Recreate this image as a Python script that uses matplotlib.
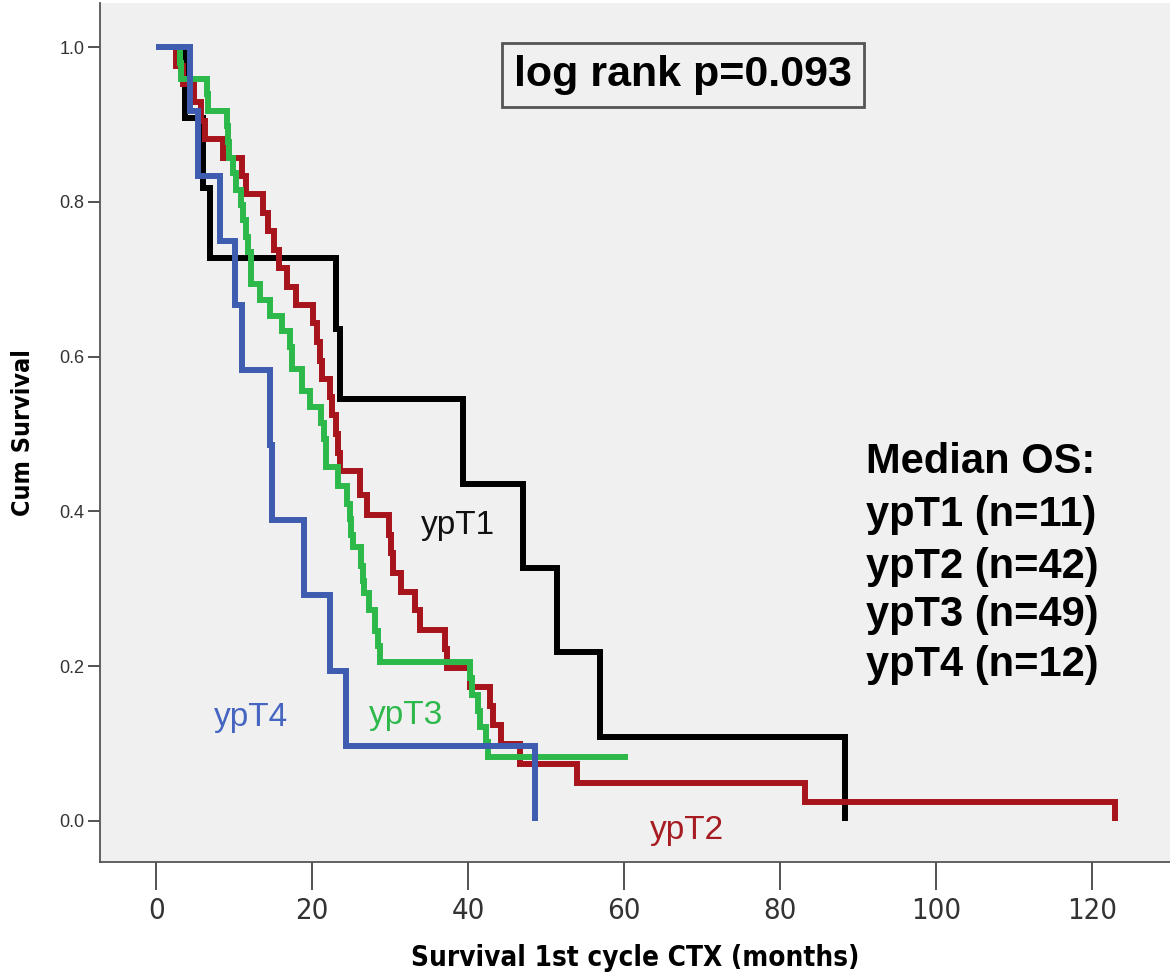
import matplotlib
matplotlib.use("Agg")
import matplotlib.pyplot as plt
from matplotlib.ticker import FormatStrFormatter

# Kaplan-Meier step data per ypT stage: event times (months) and survival after each step
t_ypt1 = [0, 3.7, 6.0, 6.9, 23.0, 23.6, 39.4, 47.1, 51.4, 56.9, 88.3]
s_ypt1 = [1.0, 0.909, 0.818, 0.727, 0.636, 0.545, 0.436, 0.327, 0.218, 0.109, 0.0]

t_ypt2 = [0, 2.6, 3.4, 4.8, 5.8, 6.2, 8.6, 11.0, 11.5, 13.7,
          14.3, 15.1, 15.8, 16.8, 17.9, 20.1, 20.6, 21.0, 21.3, 22.3,
          22.6, 23.0, 23.3, 23.6, 26.2, 27.0, 29.8, 30.1, 30.4, 31.4,
          33.2, 33.8, 37.1, 37.3, 40.2, 42.8, 43.2, 44.2, 46.7, 54.0,
          83.2, 123.0]
s_ypt2 = [1.0, 0.976, 0.952, 0.929, 0.905, 0.881, 0.857, 0.833, 0.810, 0.786,
          0.762, 0.738, 0.714, 0.690, 0.667, 0.643, 0.619, 0.595, 0.571, 0.548,
          0.524, 0.500, 0.476, 0.452, 0.421, 0.395, 0.370, 0.346, 0.321, 0.296,
          0.272, 0.247, 0.222, 0.198, 0.173, 0.148, 0.124, 0.099, 0.074, 0.049,
          0.025, 0.0]

t_ypt3 = [0, 3.0, 3.2, 6.5, 6.6, 9.1, 9.2, 9.4, 9.9, 10.3,
          10.9, 11.2, 11.5, 11.8, 12.1, 13.3, 14.6, 16.2, 17.2, 17.4,
          18.7, 19.7, 21.2, 21.5, 21.8, 23.3, 24.5, 24.8, 25.0, 25.2,
          26.3, 26.5, 26.7, 27.3, 28.0, 28.5, 28.7, 40.3, 40.5, 41.3,
          41.5, 42.3, 42.5, 60.5]
s_ypt3 = [1.0, 0.980, 0.959, 0.939, 0.918, 0.898, 0.878, 0.857, 0.837, 0.816,
          0.796, 0.776, 0.755, 0.735, 0.694, 0.673, 0.653, 0.633, 0.612, 0.584,
          0.555, 0.535, 0.514, 0.494, 0.457, 0.433, 0.410, 0.390, 0.370, 0.354,
          0.330, 0.310, 0.295, 0.272, 0.245, 0.226, 0.206, 0.185, 0.163, 0.142,
          0.121, 0.102, 0.083, 0.083]

t_ypt4 = [0, 4.3, 5.4, 8.2, 10.1, 11.0, 14.6, 14.8, 18.9, 22.3, 24.4, 48.6]
s_ypt4 = [1.0, 0.917, 0.833, 0.750, 0.667, 0.583, 0.486, 0.389, 0.292, 0.194, 0.097, 0.0]

groups = ["ypT1", "ypT2", "ypT3", "ypT4"]
group_n = [11, 42, 49, 12]
p_value = 0.093

x_ticks = [0, 20, 40, 60, 80, 100, 120]
y_ticks = [0.0, 0.2, 0.4, 0.6, 0.8, 1.0]

line_colors = ["#000000", "#A8141C", "#2DB94A", "#3E5DB0"]
text_colors = ["#111111", "#A61C22", "#2EB84C", "#4565C0"]

arial = ["Liberation Sans", "DejaVu Sans"]

fig = plt.figure(figsize=(11.7, 9.74), dpi=100)
ax = fig.add_axes([100 / 1170, 112 / 974, 1070 / 1170, 859 / 974])
ax.set_facecolor("#F0F0F0")

curves = [(t_ypt1, s_ypt1), (t_ypt2, s_ypt2), (t_ypt3, s_ypt3), (t_ypt4, s_ypt4)]
for (t, s), c in zip(curves, line_colors):
    ax.step(t, s, where="post", color=c, lw=4.3,
            solid_joinstyle="miter", solid_capstyle="butt")

ax.set_xlim(-7.2, 130)
ax.set_ylim(-0.053, 1.057)

for side in ["top", "right"]:
    ax.spines[side].set_visible(False)
for side in ["left", "bottom"]:
    ax.spines[side].set_color("#555555")
    ax.spines[side].set_linewidth(1.3)

ax.set_xticks(x_ticks)
ax.set_yticks(y_ticks)
ax.yaxis.set_major_formatter(FormatStrFormatter("%.1f"))
ax.tick_params(axis="x", length=20, width=1.3, color="#444444", pad=5,
               labelsize=21, labelcolor="#333333")
ax.tick_params(axis="y", length=9, width=1.3, color="#444444", pad=2,
               labelsize=13, labelcolor="#333333")
for lab in ax.get_xticklabels():
    lab.set_family("DejaVu Sans")
    lab.set_stretch("condensed")
for lab in ax.get_yticklabels():
    lab.set_family(arial)

ax.set_xlabel("Survival 1st cycle CTX (months)", family="DejaVu Sans",
              fontstretch="condensed", fontweight="bold", fontsize=20,
              labelpad=14)
ax.set_ylabel("Cum Survival", family="DejaVu Sans", fontstretch="condensed",
              fontweight="bold", fontsize=18, labelpad=18)

# log-rank result in a framed box
ax.text(67.6, 0.964, f"log rank p={p_value}", family=arial, fontweight="bold",
        fontsize=31, ha="center", va="center",
        bbox=dict(boxstyle="square,pad=0.28", fc="#F0F0F0", ec="#555555", lw=2))

# median OS block on the right
ax.text(91.0, 0.464, "Median OS:", family=arial, fontweight="bold",
        fontsize=30, ha="left", va="center")
row_y = [0.395, 0.328, 0.266, 0.202]
for g, n, yy in zip(groups, group_n, row_y):
    ax.text(91.0, yy, f"{g} (n={n})", family=arial, fontweight="bold",
            fontsize=30, ha="left", va="center")

# curve labels
label_pos = [(38.7, 0.382), (68.1, -0.012), (32.1, 0.136), (12.2, 0.134)]
for g, (lx, ly), c in zip(groups, label_pos, text_colors):
    ax.text(lx, ly, g, family=arial, fontsize=24, color=c,
            ha="center", va="center")

fig.savefig("out.png", dpi=100, facecolor="white")
